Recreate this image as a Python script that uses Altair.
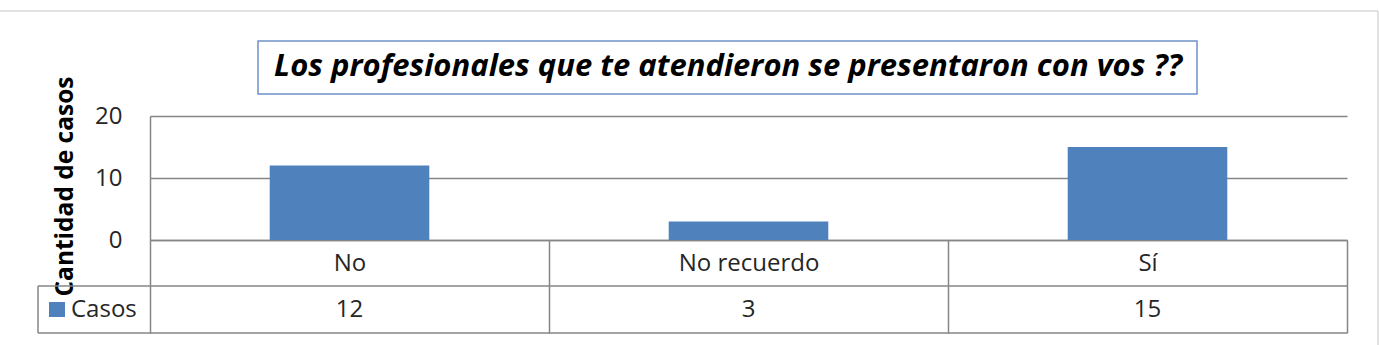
import altair as alt
import pandas as pd

categories = ["No", "No recuerdo", "Sí"]
casos = [12, 3, 15]
y_ticks = [0, 10, 20]
series_name = "Casos"
title_text = "Los profesionales que te atendieron se presentaron con vos ??"
y_title = "Cantidad de casos"

FONT = "Open Sans"
BAR = "#4F81BD"
GRID = "#868686"
TXT = "#262626"

df = pd.DataFrame({"cat": categories, "val": casos})
one = pd.DataFrame({"a": [0]})

bar_scale = alt.Scale(domain=categories, paddingInner=0.6, paddingOuter=0.3)
table_scale = alt.Scale(domain=categories, paddingInner=0, paddingOuter=0)

bars = alt.Chart(df).mark_bar(color=BAR).encode(
    x=alt.X("cat:N", scale=bar_scale, sort=categories, axis=None),
    y=alt.Y("val:Q", scale=alt.Scale(domain=[0, 20], nice=False),
            axis=alt.Axis(values=y_ticks, grid=True, gridColor=GRID, gridWidth=1.5,
                          ticks=False, domainColor=GRID, domainWidth=1.5,
                          labelColor=TXT, labelFont=FONT,
                          labelFontSize=24, labelPadding=28,
                          title=y_title, titleFont=FONT, titleFontSize=24.5,
                          titleFontWeight="bold", titleColor="#000000",
                          titleAngle=270, titleX=-78, titleY=70,
                          titleAlign="center", titleBaseline="alphabetic")),
)

values_row = alt.Chart(df).mark_text(font=FONT, fontSize=24, color=TXT, baseline="middle").encode(
    x=alt.X("cat:N", scale=table_scale, sort=categories,
            axis=alt.Axis(title=None, labelAngle=0, tickBand="extent", tickSize=93,
                          tickColor=GRID, tickWidth=1.5, domainColor=GRID, domainWidth=1.5,
                          labelColor=TXT, labelFont=FONT, labelFontSize=24,
                          labelBaseline="middle", labelPadding=-70)),
    y=alt.value(194),
    text="val:Q",
)

def rule(x, x2, y, y2, color=GRID):
    return alt.Chart(one).mark_rule(color=color, strokeWidth=1.5).encode(
        x=alt.value(x), x2=alt.value(x2), y=alt.value(y), y2=alt.value(y2))

table_lines = [
    rule(-112, 1197, 170, 170),
    rule(-112, 1197, 217, 217),
    rule(-112, -112, 170, 217),
]

frame = [
    rule(-150, 1228, -105, -105, "#d9d9d9"),
    rule(1228, 1228, -105, 229, "#d9d9d9"),
]

swatch = alt.Chart(one).mark_rect(color=BAR).encode(
    x=alt.value(-101), x2=alt.value(-85), y=alt.value(186), y2=alt.value(201))
legend_text = alt.Chart(one).mark_text(font=FONT, fontSize=24, color=TXT, align="left",
                                       baseline="middle").encode(
    x=alt.value(-79), y=alt.value(194), text=alt.value(series_name))

title_box = alt.Chart(one).mark_rect(fill="white", stroke="#6d93c8", strokeWidth=1.5).encode(
    x=alt.value(108), x2=alt.value(1047), y=alt.value(-75), y2=alt.value(-22))
title = alt.Chart(one).mark_text(font=FONT, fontSize=31, fontWeight="bold", fontStyle="italic",
                                 color="#000000", baseline="middle").encode(
    x=alt.value(578), y=alt.value(-49), text=alt.value(title_text))

chart = alt.layer(
    *frame, title_box, title, bars, values_row, *table_lines, swatch, legend_text
).resolve_scale(x="independent").properties(
    width=1197, height=124,
    autosize=alt.AutoSizeParams(type="none"),
    padding={"left": 150, "top": 116, "right": 32, "bottom": 105},
    background="white",
).configure_view(strokeWidth=0)

chart.save("out.html", embed_options={"renderer": "svg", "actions": False})
